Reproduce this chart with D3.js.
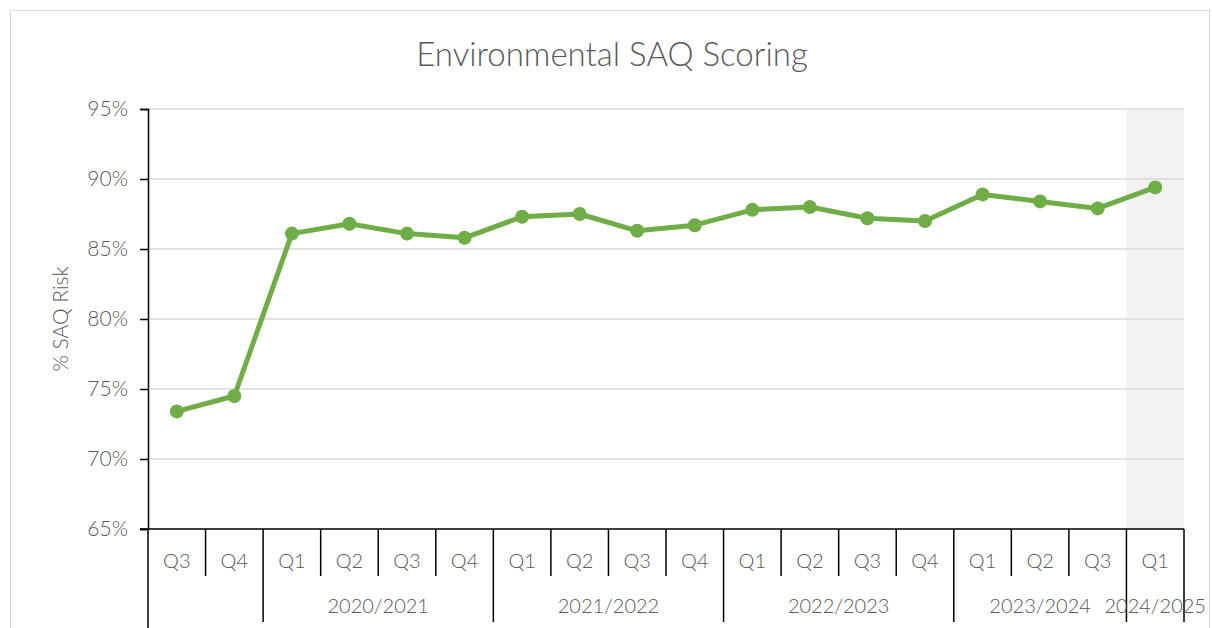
<!DOCTYPE html>
<html><head><meta charset="utf-8">
<script src="https://cdn.jsdelivr.net/npm/d3@7"></script>
<style>body{margin:0;background:#fff;} text{font-family:Lato,"Open Sans","Liberation Sans",sans-serif;font-weight:300;}</style>
</head><body>
<svg id="c" width="1212" height="628"></svg>
<script>
const quarters = ["Q3","Q4","Q1","Q2","Q3","Q4","Q1","Q2","Q3","Q4","Q1","Q2","Q3","Q4","Q1","Q2","Q3","Q1"];
const years = ["", "", "2020/2021","2020/2021","2020/2021","2020/2021","2021/2022","2021/2022","2021/2022","2021/2022","2022/2023","2022/2023","2022/2023","2022/2023","2023/2024","2023/2024","2023/2024","2024/2025"];
const values = [73.4,74.5,86.1,86.8,86.1,85.8,87.3,87.5,86.3,86.7,87.8,88.0,87.2,87.0,88.9,88.4,87.9,89.4];
const yTicks = [65,70,75,80,85,90,95];
const highlightIndex = 17;

const svg = d3.select("#c");
const L=148,R=1184,T=109,B=529;
svg.append("rect").attr("x",10.5).attr("y",10.5).attr("width",1199).attr("height",640).attr("fill","none").attr("stroke","#d9d9d9");

const idx = d3.range(quarters.length);
const x = d3.scaleBand().domain(idx).range([L,R]).padding(0);
const y = d3.scaleLinear().domain([65,95]).range([B,T]);

svg.append("rect").attr("x",x(highlightIndex)).attr("y",T).attr("width",x.bandwidth()).attr("height",B-T).attr("fill","#f2f2f2");

svg.append("g").selectAll("line").data(yTicks.slice(1)).join("line")
  .attr("x1",L).attr("x2",R).attr("y1",d=>y(d)).attr("y2",d=>y(d))
  .attr("stroke","#d9d9d9").attr("stroke-width",1.5);

const ya = svg.append("g").attr("transform",`translate(${L},0)`)
  .call(d3.axisLeft(y).tickValues(yTicks).tickFormat(d=>d+"%").tickSize(8).tickPadding(12));
ya.select(".domain").attr("stroke","#000").attr("stroke-width",1.5);
ya.selectAll(".tick line").attr("stroke","#000").attr("stroke-width",1.5);
ya.selectAll("text").attr("font-size",21).attr("fill","#595959");

svg.append("line").attr("x1",L-8).attr("x2",R).attr("y1",B).attr("y2",B).attr("stroke","#000").attr("stroke-width",1.5);

const xa = svg.append("g");
xa.selectAll("text.q").data(idx).join("text").attr("class","q")
  .attr("x",i=>x(i)+x.bandwidth()/2).attr("y",568).attr("text-anchor","middle")
  .attr("font-size",20).attr("fill","#595959").text(i=>quarters[i]);
const bounds = d3.range(quarters.length+1);
bounds.forEach(b=>{
  const xp = b<quarters.length ? x(b) : R;
  const isYear = b===0 || b===quarters.length || years[b]!==years[b-1];
  const bottom = b===0 ? 628 : (isYear ? 622 : 576);
  xa.append("line").attr("x1",xp).attr("x2",xp).attr("y1",B).attr("y2",bottom)
    .attr("stroke","#000").attr("stroke-width",1.5);
});
const groups = d3.groups(idx, i=>years[i]);
groups.forEach(([yr,arr])=>{
  if(!yr) return;
  const cx = (x(arr[0]) + x(arr[arr.length-1])+x.bandwidth())/2;
  xa.append("text").attr("x",cx).attr("y",613).attr("text-anchor","middle")
    .attr("font-size",20).attr("fill","#595959").text(yr);
});

const line = d3.line().x((d,i)=>x(i)+x.bandwidth()/2).y(d=>y(d));
svg.append("path").datum(values).attr("d",line).attr("fill","none")
  .attr("stroke","#70ad47").attr("stroke-width",5).attr("stroke-linejoin","round");
svg.append("g").selectAll("circle").data(values).join("circle")
  .attr("cx",(d,i)=>x(i)+x.bandwidth()/2).attr("cy",d=>y(d)).attr("r",7).attr("fill","#70ad47");

svg.append("text").attr("x",612).attr("y",66).attr("text-anchor","middle")
  .attr("font-size",33).attr("fill","#595959").text("Environmental SAQ Scoring");
svg.append("text").attr("transform",`translate(68,319) rotate(-90)`).attr("text-anchor","middle")
  .attr("font-size",21).attr("fill","#595959").text("% SAQ Risk");
</script>
</body></html>
